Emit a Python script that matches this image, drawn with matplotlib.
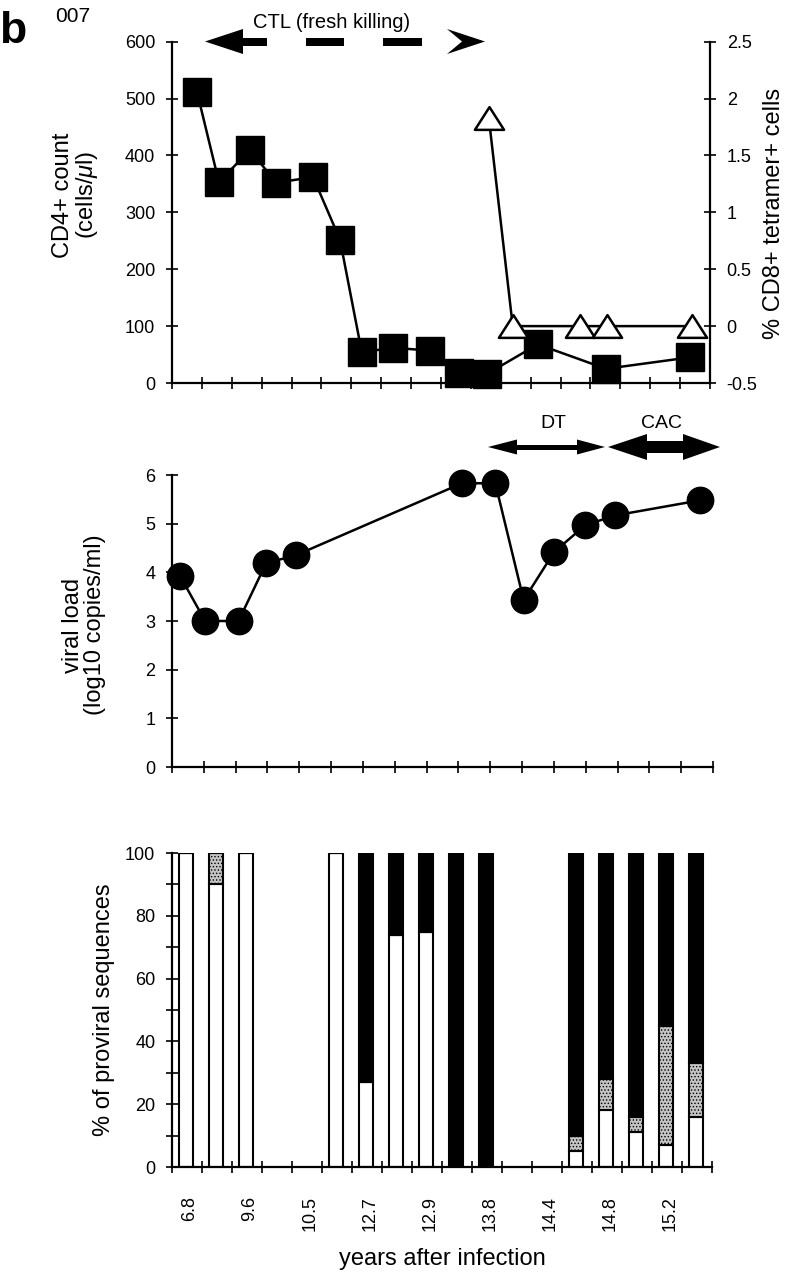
import numpy as np
import matplotlib
matplotlib.use('Agg')
import matplotlib.pyplot as plt
from matplotlib.patches import Polygon
from matplotlib.path import Path

plt.rcParams['font.family'] = ['Liberation Sans', 'DejaVu Sans']
plt.rcParams['mathtext.fontset'] = 'custom'
plt.rcParams['mathtext.rm'] = 'Liberation Sans'
plt.rcParams['mathtext.it'] = 'Liberation Sans:italic'
plt.rcParams['hatch.linewidth'] = 0.6

# --- data (x in tick units of each panel) ---
cd4_x = [0.84, 1.57, 2.61, 3.48, 4.72, 5.62, 6.35, 7.39, 8.63, 9.6, 10.54, 12.24, 14.52, 17.32]
cd4 = [511, 353, 410, 352, 362, 252, 54, 62, 57, 18, 16, 68, 25, 45]
tet_x = [10.6, 11.4, 13.65, 14.55, 17.39]
tet = [1.83, 0, 0, 0, 0]

vl_x = [0.25, 1.04, 2.09, 2.96, 3.89, 9.11, 10.16, 11.05, 12.01, 12.99, 13.93, 16.6]
vl = [3.93, 3.0, 3.0, 4.19, 4.35, 5.83, 5.83, 3.43, 4.42, 4.97, 5.17, 5.48]

bar_slot = [0, 1, 2, 5, 6, 7, 8, 9, 10, 13, 14, 15, 16, 17]
white = [100, 90, 100, 100, 27, 74, 75, 0, 0, 5, 18, 11, 7, 16]
grey = [0, 10, 0, 0, 0, 0, 0, 0, 0, 5, 10, 5, 38, 17]
black = [0, 0, 0, 0, 73, 26, 25, 100, 100, 90, 72, 84, 55, 67]
years = ['6.8', '9.6', '10.5', '12.7', '12.9', '13.8', '14.4', '14.8', '15.2']

W, H = 785, 1280
fig = plt.figure(figsize=(W / 100, H / 100), dpi=100)


def box(l, t, r, b):
    return [l / W, 1 - b / H, (r - l) / W, (b - t) / H]


def fxy(x, y):
    return (x / W, 1 - y / H)


def poly(pts):
    fig.patches.append(Polygon([fxy(x, y) for x, y in pts], closed=True,
                               transform=fig.transFigure, facecolor='black',
                               edgecolor='none'))


def rect(x0, x1, y0, y1):
    poly([(x0, y0), (x1, y0), (x1, y1), (x0, y1)])


def style(ax):
    ax.spines['top'].set_visible(False)
    ax.spines['right'].set_visible(False)
    for s in ['left', 'bottom', 'right']:
        ax.spines[s].set_linewidth(1.6)
    ax.tick_params(which='both', direction='inout', length=8, width=1.2,
                   labelsize=13, pad=8)


# top panel
ax1 = fig.add_axes(box(172, 41.7, 710, 383))
ax2 = ax1.twinx()
style(ax1)
ax2.spines['top'].set_visible(False)
ax2.spines['left'].set_visible(False)
ax2.spines['bottom'].set_visible(False)
ax2.spines['right'].set_linewidth(1.6)
ax2.tick_params(direction='inout', length=8, width=1.2, labelsize=13, pad=8)

ax1.plot(cd4_x, cd4, '-', color='black', lw=1.8, marker='s', ms=20,
         mfc='black', mec='black', mew=1, clip_on=False, zorder=3)
ax1.set_xlim(0, 18)
ax1.set_ylim(0, 600)
ax1.set_xticks(range(19))
ax1.set_xticklabels([])
ax1.set_yticks(range(0, 601, 100))
ax1.set_ylabel('CD4+ count\n(cells/$\\mu$l)', fontsize=17, linespacing=1.0)
ax1.yaxis.set_label_coords((100 - 172) / 538, 0.551)

tri = Path([(-1, -0.78), (1, -0.78), (0, 0.78), (-1, -0.78)],
           [Path.MOVETO, Path.LINETO, Path.LINETO, Path.CLOSEPOLY])
ax2.plot(tet_x, tet, '-', color='black', lw=1.8, marker=tri, ms=21,
         mfc='white', mec='black', mew=1.8, clip_on=False, zorder=4)
ax2.set_ylim(-0.5, 2.5)
ax2.set_yticks([-0.5, 0, 0.5, 1, 1.5, 2, 2.5])
ax2.set_yticklabels(['-0.5', '0', '0.5', '1', '1.5', '2', '2.5'])
ax2.set_ylabel('% CD8+ tetramer+ cells', fontsize=17)
ax2.yaxis.set_label_coords((763 - 172) / 538, 0.498)

# middle panel
ax3 = fig.add_axes(box(172, 475, 713, 767))
style(ax3)
ax3.plot(vl_x, vl, '-', color='black', lw=1.8, marker='o', ms=19,
         mfc='black', mec='black', mew=1, clip_on=False, zorder=3)
ax3.set_xlim(0, 17)
ax3.set_ylim(0, 6)
ax3.set_xticks(range(18))
ax3.set_xticklabels([])
ax3.set_yticks(range(7))
ax3.set_ylabel('viral load\n(log10 copies/ml)', fontsize=17, linespacing=1.0)
ax3.yaxis.set_label_coords((106 - 172) / 541, 0.486)

# bottom panel
ax4 = fig.add_axes(box(172, 853, 712, 1167))
style(ax4)
xs = np.array(bar_slot) + 0.47
w = np.array(white)
g = np.array(grey)
b = np.array(black)
ax4.bar(xs, w, width=0.47, color='white', edgecolor='black', lw=1.5)
ax4.bar(xs, g, bottom=w, width=0.47, color='#c4c4c4', hatch='.....',
        edgecolor='black', lw=1.5)
ax4.bar(xs, b, bottom=w + g, width=0.47, color='black', edgecolor='black', lw=1.5)
ax4.set_xlim(0, 18)
ax4.set_ylim(0, 100)
ax4.set_yticks(range(0, 101, 20))
ax4.set_yticks(range(10, 100, 20), minor=True)
ax4.set_xticks(range(19))
ax4.set_xticklabels([])
ax4.set_xticks(np.arange(0, 18, 2) + 0.6, years, minor=True)
ax4.tick_params(axis='x', which='minor', length=0, pad=21, labelsize=13,
                labelrotation=90)
ax4.set_ylabel('% of proviral sequences', fontsize=17)
ax4.yaxis.set_label_coords((115 - 172) / 540, 0.5)
ax4.set_xlabel('years after infection', fontsize=17)
ax4.xaxis.set_label_coords(0.5, (1167 - 1248) / 314)

# arrows and annotations
poly([(205, 41.5), (243, 29), (243, 54)])
rect(243, 267, 37.5, 45.5)
rect(306, 344, 37.5, 45.5)
rect(383, 422, 37.5, 45.5)
poly([(447, 29), (485, 41.5), (447, 54), (462, 41.5)])
fig.text(*fxy(332, 23), 'CTL (fresh killing)', fontsize=14.5, ha='center', va='center')

poly([(488, 447), (517, 439.5), (517, 454.5)])
rect(517, 577, 444.5, 449.5)
poly([(605, 447), (577, 439.5), (577, 454.5)])
poly([(608, 447), (647, 434), (647, 460)])
rect(647, 683, 441, 453)
poly([(720, 447), (683, 434), (683, 460)])
fig.text(*fxy(553, 424), 'DT', fontsize=14, ha='center', va='center')
fig.text(*fxy(662, 424), 'CAC', fontsize=14, ha='center', va='center')

fig.text(*fxy(-1, 43), 'b', fontsize=32, fontweight='bold', ha='left', va='baseline')
fig.text(*fxy(55, 22), '007', fontsize=15, ha='left', va='baseline')

fig.savefig('out.png', dpi=100)
